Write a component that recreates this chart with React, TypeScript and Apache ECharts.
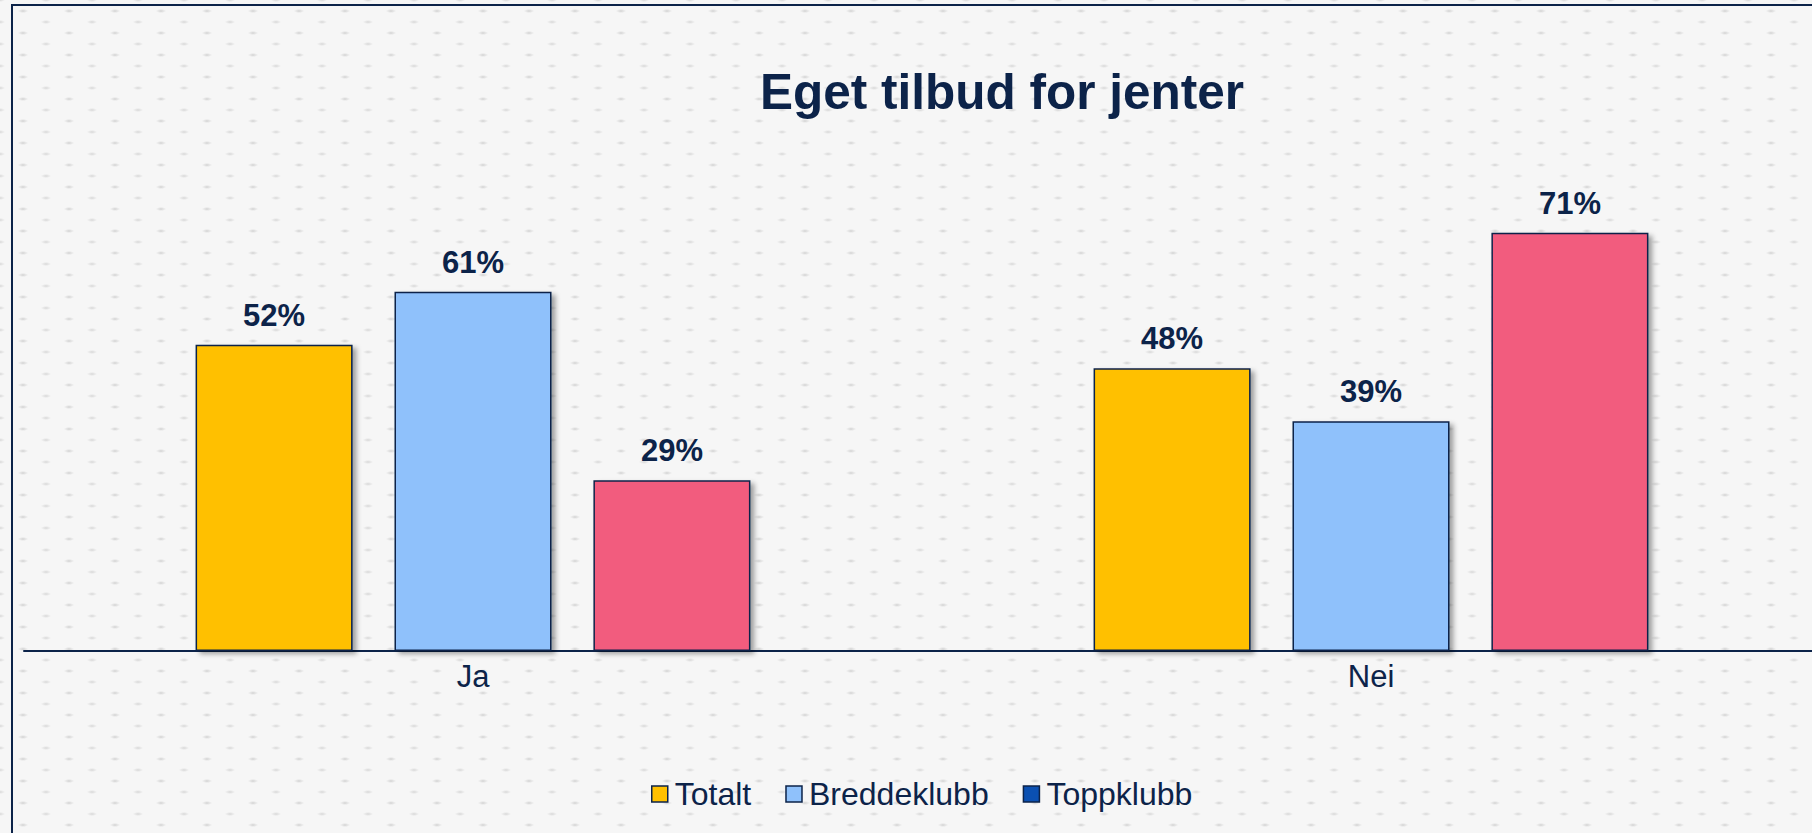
import React, { useEffect, useRef } from "react";
import * as echarts from "echarts";

const categories = ["Ja", "Nei"];
const seriesNames = ["Totalt", "Breddeklubb", "Toppklubb"];
const totalt = [52, 48];
const breddeklubb = [61, 39];
const toppklubb = [29, 71];
const titleText = "Eget tilbud for jenter";

const NAVY = "#0c2349";
const FONT = "'Liberation Sans', Arial, sans-serif";

export default function App() {
  const ref = useRef<HTMLDivElement>(null);

  useEffect(() => {
    if (!ref.current) return;
    const chart = echarts.init(ref.current, undefined, { renderer: "svg" });
    const barStyle = (color: string) => ({
      color,
      borderColor: NAVY,
      borderWidth: 1.5,
      shadowColor: "rgba(0,0,0,0.35)",
      shadowBlur: 5,
      shadowOffsetX: 4,
      shadowOffsetY: 3,
    });
    const label = {
      show: true,
      position: "top",
      distance: 14,
      formatter: "{c}%",
      color: NAVY,
      fontSize: 31,
      fontWeight: "bold",
      fontFamily: FONT,
    };
    chart.setOption({
      animation: false,
      backgroundColor: "transparent",
      graphic: [
        {
          type: "rect",
          shape: { x: 12, y: 5, width: 1900, height: 1000 },
          style: { fill: "none", stroke: NAVY, lineWidth: 2 },
          silent: true,
          z: -1,
        },
        {
          type: "text",
          x: 1002,
          y: 91,
          style: {
            text: titleText,
            fill: NAVY,
            fontSize: 49.5,
            fontWeight: "bold",
            fontFamily: FONT,
            textAlign: "center",
            textVerticalAlign: "middle",
          },
        },
      ],
      legend: {
        left: 651,
        top: 778,
        padding: 0,
        itemWidth: 16,
        itemHeight: 16,
        itemGap: 34,
        icon: "rect",
        textStyle: { color: NAVY, fontSize: 32, fontFamily: FONT, padding: [0, 0, 0, 2] },
        itemStyle: { borderColor: NAVY, borderWidth: 1.5 },
        data: [
          { name: seriesNames[0], itemStyle: { color: "#FFC000" } },
          { name: seriesNames[1], itemStyle: { color: "#8FC1FB" } },
          { name: seriesNames[2], itemStyle: { color: "#0B50B2" } },
        ],
      },
      grid: { left: 24, top: 62, width: 1796, height: 589 },
      xAxis: {
        type: "category",
        data: categories,
        axisLine: { show: true, lineStyle: { color: NAVY, width: 2 } },
        axisTick: { show: false },
        axisLabel: { color: NAVY, fontSize: 31, fontFamily: FONT, margin: 10 },
      },
      yAxis: {
        type: "value",
        min: 0,
        max: 100,
        show: false,
        splitLine: { show: false },
      },
      series: [
        {
          name: seriesNames[0],
          type: "bar",
          data: totalt,
          barWidth: 157,
          barGap: "26.7%",
          itemStyle: barStyle("#FFC000"),
          label,
        },
        {
          name: seriesNames[1],
          type: "bar",
          data: breddeklubb,
          barWidth: 157,
          barGap: "26.7%",
          itemStyle: barStyle("#8FC1FB"),
          label,
        },
        {
          name: seriesNames[2],
          type: "bar",
          data: toppklubb,
          barWidth: 157,
          barGap: "26.7%",
          itemStyle: barStyle("#F25B7E"),
          label,
        },
      ],
    });
    return () => chart.dispose();
  }, []);

  return (
    <div
      style={{
        position: "fixed",
        left: 0,
        top: 0,
        width: 1812,
        height: 833,
        overflow: "hidden",
        backgroundColor: "#f6f6f6",
        backgroundImage:
          "radial-gradient(ellipse 5px 2px at 50% 50%, rgba(190,190,190,0.65) 0%, rgba(190,190,190,0) 100%), radial-gradient(ellipse 5px 2px at 50% 50%, rgba(195,195,195,0.6) 0%, rgba(195,195,195,0) 100%)",
        backgroundSize: "46px 22px, 46px 22px",
        backgroundPosition: "0 0, 23px 11px",
      }}
    >
      <div ref={ref} style={{ position: "absolute", left: 0, top: 0, width: 1840, height: 833 }} />
    </div>
  );
}
